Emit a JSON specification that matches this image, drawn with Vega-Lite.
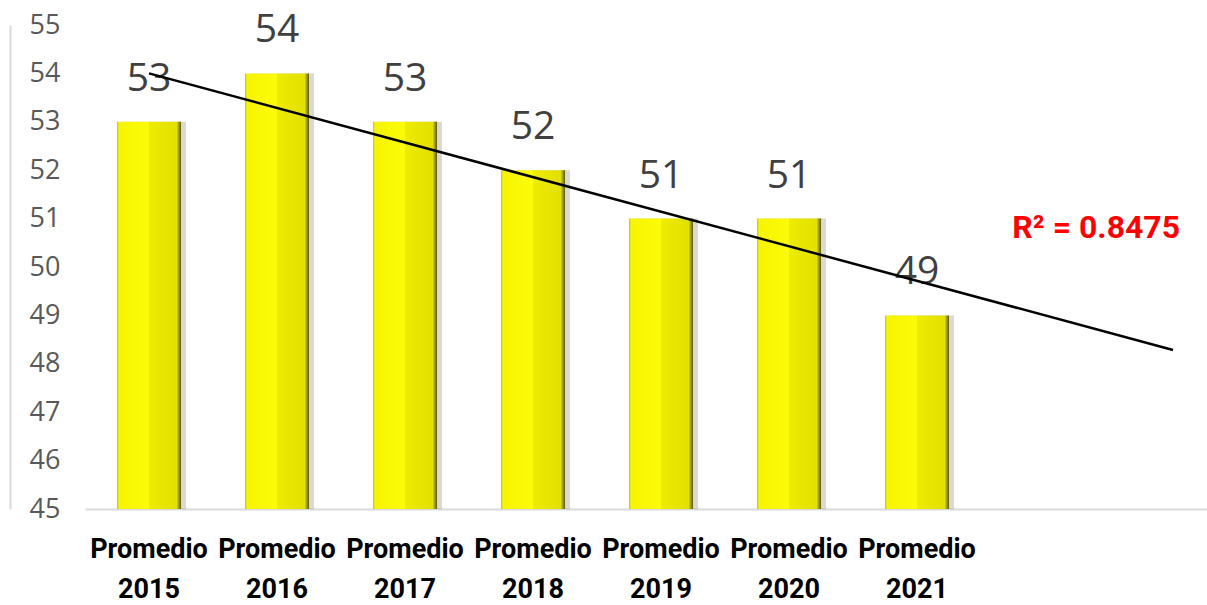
{
  "$schema": "https://vega.github.io/schema/vega-lite/v6.json",
  "width": 1122,
  "height": 484,
  "autosize": {"type": "none"},
  "padding": {"left": 85, "top": 25, "right": 0, "bottom": 96},
  "background": "white",
  "config": {"view": {"stroke": null}},
  "datasets": {
    "bars": [
      {"cat": "Promedio 2015", "idx": 1, "value": 53},
      {"cat": "Promedio 2016", "idx": 2, "value": 54},
      {"cat": "Promedio 2017", "idx": 3, "value": 53},
      {"cat": "Promedio 2018", "idx": 4, "value": 52},
      {"cat": "Promedio 2019", "idx": 5, "value": 51},
      {"cat": "Promedio 2020", "idx": 6, "value": 51},
      {"cat": "Promedio 2021", "idx": 7, "value": 49}
    ],
    "r2": [{"idx": 8.4, "value": 50.8, "label": "R² = 0.8475"}]
  },
  "layer": [
    {
      "data": {"name": "bars"},
      "layer": [
        {
          "mark": {"type": "bar", "color": "#000000", "opacity": 0.15, "xOffset": 5},
          "encoding": {
            "x": {"field": "cat", "type": "nominal", "sort": null,
              "scale": {"range": [0, 896], "paddingInner": 0.5, "paddingOuter": 0.25},
              "axis": {"title": null, "orient": "bottom", "domain": false, "ticks": false, "labelExpr": "split(datum.label, ' ')",
                "labelFont": "Roboto", "labelFontWeight": "bold", "labelFontSize": 27, "labelColor": "#000000",
                "labelPadding": 27, "labelLineHeight": 40, "labelBaseline": "top", "labelAngle": 0}},
            "y": {"field": "value", "type": "quantitative",
              "scale": {"domain": [45, 55], "zero": false, "nice": false},
              "axis": {"title": null, "values": [45, 46, 47, 48, 49, 50, 51, 52, 53, 54, 55],
                "grid": false, "ticks": false, "domain": true, "domainColor": "#d9d9d9", "domainWidth": 2,
                "offset": 75, "labelPadding": -50, "labelAlign": "right",
                "labelFont": "Open Sans", "labelFontSize": 27, "labelColor": "#595959"}},
            "y2": {"datum": 45}
          }
        },
        {
          "mark": {"type": "bar",
            "color": {"gradient": "linear", "x1": 0, "x2": 1, "y1": 0, "y2": 0,
              "stops": [
                {"offset": 0, "color": "#c8c400"},
                {"offset": 0.03, "color": "#f6f400"},
                {"offset": 0.5, "color": "#fdfc08"},
                {"offset": 0.501, "color": "#eeec00"},
                {"offset": 0.93, "color": "#e2e000"},
                {"offset": 1, "color": "#5a5800"}
              ]}},
          "encoding": {
            "x": {"field": "cat", "type": "nominal", "sort": null},
            "y": {"field": "value", "type": "quantitative"},
            "y2": {"datum": 45}
          }
        },
        {
          "mark": {"type": "text", "font": "Open Sans", "fontSize": 39, "color": "#404040", "baseline": "alphabetic", "dy": -31},
          "encoding": {
            "x": {"field": "cat", "type": "nominal", "sort": null},
            "y": {"field": "value", "type": "quantitative"},
            "text": {"field": "value", "type": "quantitative"}
          }
        }
      ]
    },
    {
      "layer": [
        {
          "data": {"name": "bars"},
          "transform": [{"regression": "value", "on": "idx", "extent": [1, 9]}],
          "mark": {"type": "line", "color": "#000000", "strokeWidth": 2.5},
          "encoding": {
            "x": {"field": "idx", "type": "quantitative",
              "scale": {"domain": [0.5, 9.2656], "nice": false, "zero": false},
              "axis": {"title": null, "orient": "bottom", "labels": false, "ticks": false, "grid": false, "domain": true,
                "domainColor": "#d9d9d9", "domainWidth": 2}},
            "y": {"field": "value", "type": "quantitative"}
          }
        },
        {
          "data": {"name": "r2"},
          "mark": {"type": "text", "font": "Roboto", "fontWeight": "bold", "fontSize": 32, "color": "#ff0000"},
          "encoding": {
            "x": {"field": "idx", "type": "quantitative"},
            "y": {"field": "value", "type": "quantitative"},
            "text": {"field": "label"}
          }
        }
      ]
    }
  ],
  "resolve": {"scale": {"x": "independent"}}
}
